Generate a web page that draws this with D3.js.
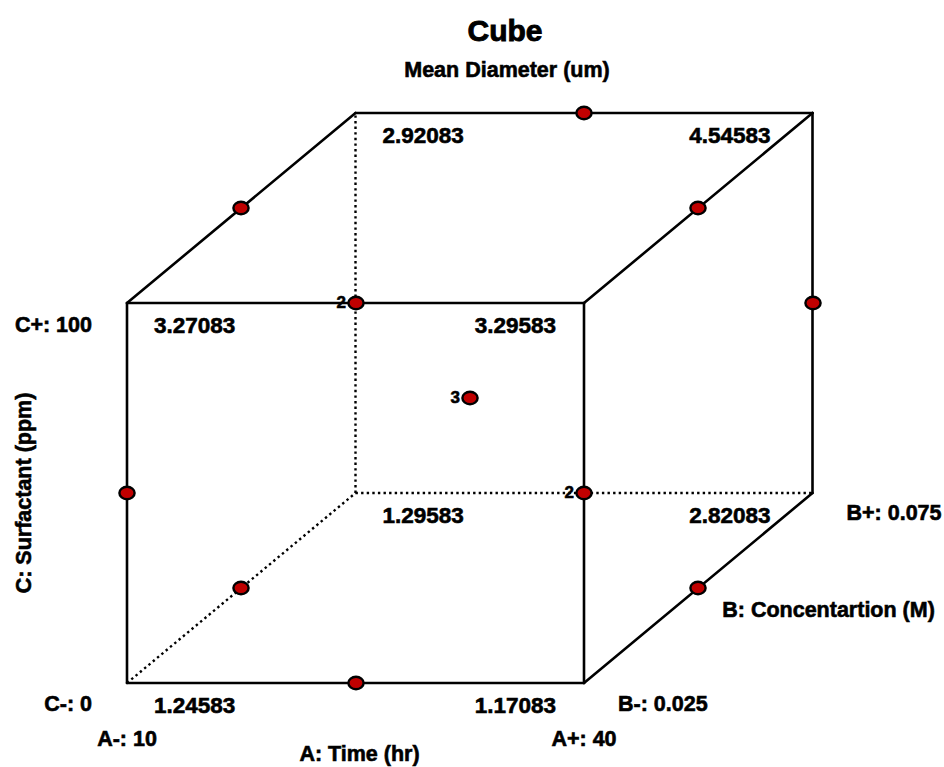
<!DOCTYPE html>
<html>
<head>
<meta charset="utf-8">
<script src="https://cdnjs.cloudflare.com/ajax/libs/d3/7.8.5/d3.min.js"></script>
<style>
    html, body { margin: 0; padding: 0; background: #fff; }
    svg text {
        font-family: "Liberation Sans", Arial, sans-serif;
        font-weight: bold;
        fill: #000;
        stroke: #000;
        stroke-width: 0.6px;
    }
</style>
</head>
<body>
<svg id="chart" width="944" height="767"></svg>
<script>
// Factor levels
const levelsA = [10, 40];        // A: Time (hr)
const levelsB = [0.025, 0.075];  // B: Concentartion (M)
const levelsC = [0, 100];        // C: Surfactant (ppm)

// Predicted mean diameter at the cube corners
const cornerA = [10, 40, 10, 40, 10, 40, 10, 40];
const cornerB = [0.025, 0.025, 0.025, 0.025, 0.075, 0.075, 0.075, 0.075];
const cornerC = [0, 0, 100, 100, 0, 0, 100, 100];
const cornerMean = [1.24583, 1.17083, 3.27083, 3.29583, 1.29583, 2.82083, 2.92083, 4.54583];

// Design runs (Box-Behnken: 12 edge midpoints + 3 centre points)
const runA = [25, 25, 25, 25, 10, 40, 10, 40, 10, 40, 10, 40, 25, 25, 25];
const runB = [0.025, 0.075, 0.025, 0.075, 0.05, 0.05, 0.05, 0.05, 0.025, 0.025, 0.075, 0.075, 0.05, 0.05, 0.05];
const runC = [0, 0, 100, 100, 0, 0, 100, 100, 50, 50, 50, 50, 50, 50, 50];

// Labels
const title = 'Cube';
const subtitle = 'Mean Diameter (um)';
const nameA = 'A: Time (hr)', nameB = 'B: Concentartion (M)', nameC = 'C: Surfactant (ppm)';

(function () {
    const LEFT = 127, RIGHT = 584, TOP = 303, BOTTOM = 683;
    const DX = (RIGHT - LEFT) / 2, DY = (BOTTOM - TOP) / 2;
    const STROKE = '#000', FILL = '#c00000', LINE_W = 2.6;

    const x = d3.scaleLinear().domain(levelsA).range([LEFT, RIGHT]);
    const y = d3.scaleLinear().domain(levelsC).range([BOTTOM, TOP]);
    const depthX = d3.scaleLinear().domain(levelsB).range([0, DX]);
    const depthY = d3.scaleLinear().domain(levelsB).range([0, -DY]);

    const px = (a, b) => x(a) + depthX(b);
    const py = (b, c) => y(c) + depthY(b);

    const graph = d3.select('#chart');

    // Рёбра куба
    let corners = cornerA.map((a, i) => ({a: a, b: cornerB[i], c: cornerC[i], v: cornerMean[i]}));
    let hidden = {a: levelsA[0], b: levelsB[1], c: levelsC[0]};
    let edges = [];
    corners.forEach(function (p, i) {
        corners.forEach(function (q, j) {
            if (j <= i) return;
            let diff = (p.a !== q.a) + (p.b !== q.b) + (p.c !== q.c);
            if (diff !== 1) return;
            let dotted = [p, q].some(k => k.a === hidden.a && k.b === hidden.b && k.c === hidden.c);
            edges.push({p: p, q: q, dotted: dotted});
        });
    });

    edges.forEach(function (e) {
        graph.append('line')
            .attr('x1', px(e.p.a, e.p.b))
            .attr('y1', py(e.p.b, e.p.c))
            .attr('x2', px(e.q.a, e.q.b))
            .attr('y2', py(e.q.b, e.q.c))
            .attr('stroke', STROKE)
            .attr('stroke-width', e.dotted ? 2.4 : LINE_W)
            .attr('stroke-dasharray', e.dotted ? '2.4,3.2' : null)
            .attr('stroke-linecap', e.dotted ? 'butt' : 'round');
    });

    // Значения в углах
    corners.forEach(function (p) {
        let isLeft = p.a === levelsA[0];
        let isBack = p.b === levelsB[1];
        graph.append('text')
            .attr('x', px(p.a, p.b) + (isLeft ? 27 : (isBack ? -42 : -28)))
            .attr('y', py(p.b, p.c) + 30)
            .attr('text-anchor', isLeft ? 'start' : 'end')
            .style('font-size', '22.5px')
            .text(p.v);
    });

    // Точки плана (совпадающие в проекции складываются)
    let runs = runA.map((a, i) => ({x: px(a, runB[i]), y: py(runB[i], runC[i])}));
    let groups = d3.rollups(runs, v => v.length, d => Math.round(d.x) + ',' + Math.round(d.y));

    groups.forEach(function (g) {
        let [cx, cy] = g[0].split(',').map(Number);
        graph.append('ellipse')
            .attr('cx', cx)
            .attr('cy', cy)
            .attr('rx', 7.6)
            .attr('ry', 6.2)
            .attr('fill', FILL)
            .attr('stroke', STROKE)
            .attr('stroke-width', 2.4);
        if (g[1] > 1) {
            graph.append('text')
                .attr('x', cx - 10)
                .attr('y', cy + 5)
                .attr('text-anchor', 'end')
                .style('font-size', '17px')
                .text(g[1]);
        }
    });

    // Подписи уровней факторов
    let texts = [
        [x(levelsA[0]), BOTTOM + 63, 'middle', 'A-: ' + levelsA[0]],
        [x(levelsA[1]), BOTTOM + 63, 'middle', 'A+: ' + levelsA[1]],
        [x(d3.mean(levelsA)) + 4, BOTTOM + 78, 'middle', nameA],
        [RIGHT + 34, BOTTOM + 28, 'start', 'B-: ' + levelsB[0]],
        [RIGHT + DX + 34, BOTTOM - DY + 27, 'start', 'B+: ' + levelsB[1]],
        [px(levelsA[1], d3.mean(levelsB)) + 24, py(d3.mean(levelsB), levelsC[0]) + 29, 'start', nameB],
        [92, y(levelsC[1]) + 29, 'end', 'C+: ' + levelsC[1]],
        [92, y(levelsC[0]) + 28, 'end', 'C-: ' + levelsC[0]]
    ];

    texts.forEach(function (t) {
        graph.append('text')
            .attr('x', t[0])
            .attr('y', t[1])
            .attr('text-anchor', t[2])
            .style('font-size', '21.5px')
            .text(t[3]);
    });

    graph.append('text')
        .attr('transform', `translate(31,${y(d3.mean(levelsC))}) rotate(-90)`)
        .attr('text-anchor', 'middle')
        .style('font-size', '21.5px')
        .text(nameC);

    // Заголовок
    graph.append('text')
        .attr('x', 505)
        .attr('y', 41)
        .attr('text-anchor', 'middle')
        .style('font-size', '30px')
        .style('stroke-width', '0.9px')
        .text(title);

    graph.append('text')
        .attr('x', 507)
        .attr('y', 77)
        .attr('text-anchor', 'middle')
        .style('font-size', '21.5px')
        .text(subtitle);
})();
</script>
</body>
</html>
